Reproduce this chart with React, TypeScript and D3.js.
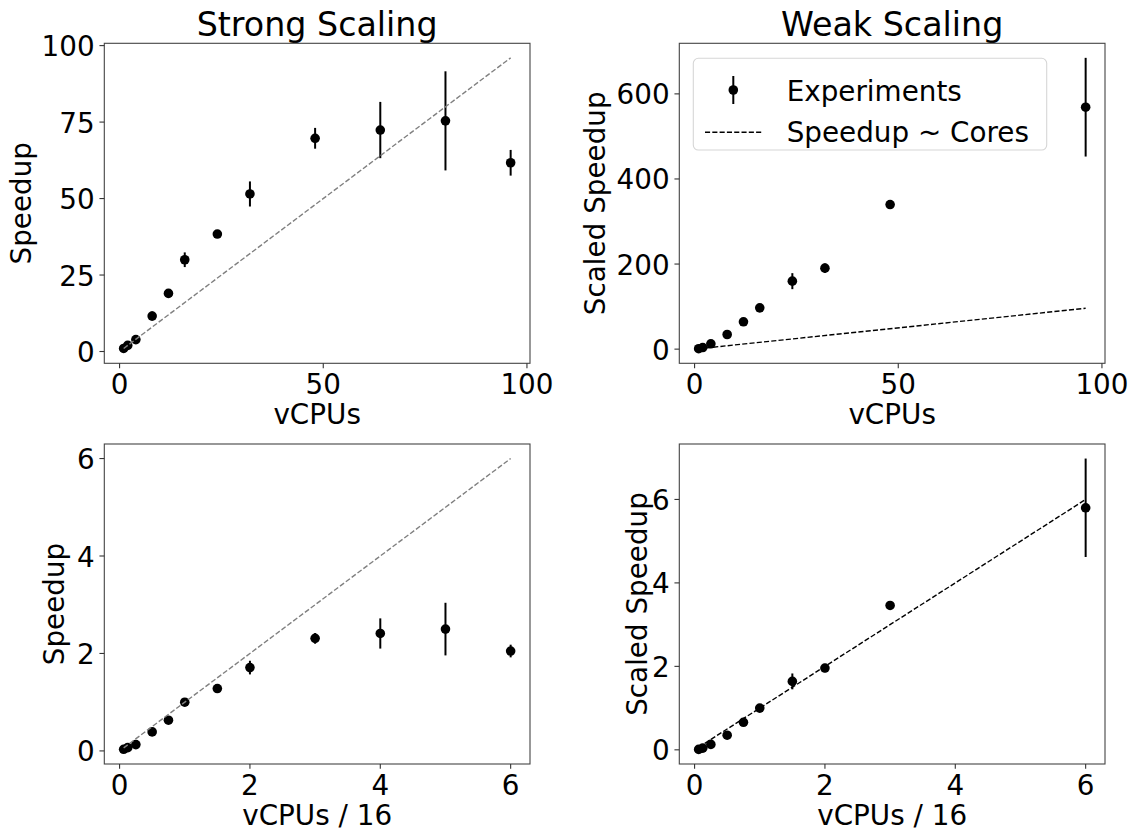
import React from "react";
import * as d3 from "d3";

// ---- Strong scaling (absolute vCPUs) ----
const strongCpus = [1, 2, 4, 8, 12, 16, 24, 32, 48, 64, 80, 96];
const strongSpeedup = [1.0, 2.0, 3.9, 11.6, 19.0, 30.0, 38.4, 51.5, 69.7, 72.4, 75.4, 61.7];
const strongErr = [0.1, 0.2, 0.3, 1.5, 0.8, 2.4, 1.0, 4.1, 3.4, 9.2, 16.2, 4.2];

// ---- Weak scaling (absolute vCPUs) ----
const weakCpus = [1, 2, 4, 8, 12, 16, 24, 32, 48, 96];
const weakSpeedup = [1.0, 3.8, 12.5, 34.4, 64.2, 97.1, 159.8, 190.4, 339.9, 568.7];
const weakErr = [0.1, 0.3, 1.0, 2.0, 3.0, 4.0, 18.8, 11.0, 5.0, 116.0];

// ---- Strong scaling (nodes of 16 vCPUs) ----
const strongNodes = [0.0625, 0.125, 0.25, 0.5, 0.75, 1, 1.5, 2, 3, 4, 5, 6];
const strongNodeSpeedup = [0.033, 0.067, 0.13, 0.39, 0.63, 1.0, 1.28, 1.71, 2.31, 2.41, 2.5, 2.05];
const strongNodeErr = [0.003, 0.007, 0.01, 0.05, 0.03, 0.08, 0.03, 0.14, 0.11, 0.31, 0.54, 0.13];

// ---- Weak scaling (nodes of 16 vCPUs) ----
const weakNodes = [0.0625, 0.125, 0.25, 0.5, 0.75, 1, 1.5, 2, 3, 6];
const weakNodeSpeedup = [0.01, 0.04, 0.13, 0.35, 0.66, 1.0, 1.64, 1.96, 3.46, 5.8];
const weakNodeErr = [0.001, 0.003, 0.01, 0.02, 0.03, 0.04, 0.19, 0.1, 0.05, 1.18];

const cpuTicks = [0, 50, 100];
const nodeTicks = [0, 2, 4, 6];
const strongTicks = [0, 25, 50, 75, 100];
const weakTicks = [0, 200, 400, 600];
const smallTicks = [0, 2, 4, 6];

const legendLabels = ["Experiments", "Speedup ~ Cores"];

const FONT = "DejaVu Sans";
const TICK_FS = 27.8;
const TITLE_FS = 33.3;
const TICK_LEN = 4.86;
const TICK_PAD = 4.86;
const MARKER_R = 4.8;

function padded(lo: number, hi: number): [number, number] {
  const m = (hi - lo) * 0.05;
  return [lo - m, hi + m];
}

type PanelProps = {
  left: number;
  top: number;
  width: number;
  height: number;
  xs: number[];
  ys: number[];
  errs: number[];
  xTicks: number[];
  yTicks: number[];
  xLabel: string;
  yLabel: string;
  yLabelX: number;
  title?: string;
  idealColor: string;
  legend?: boolean;
};

function Panel(p: PanelProps) {
  const { left, top, width, height, xs, ys, errs } = p;
  const right = left + width;
  const bottom = top + height;

  const x0 = xs[0];
  const x1 = xs[xs.length - 1];
  const lows = ys.map((v, i) => v - errs[i]);
  const highs = ys.map((v, i) => v + errs[i]);
  const yLo = Math.min(d3.min(lows) as number, x0);
  const yHi = Math.max(d3.max(highs) as number, x1);

  const x = d3.scaleLinear().domain(padded(x0, x1)).range([left, right]);
  const y = d3.scaleLinear().domain(padded(yLo, yHi)).range([bottom, top]);

  const ideal = d3
    .line<[number, number]>()
    .x((d) => x(d[0]))
    .y((d) => y(d[1]))([
    [x0, x0],
    [x1, x1],
  ]);

  const fmt = d3.format("d");

  return (
    <g>
      {p.title && (
        <text
          x={(left + right) / 2}
          y={top - 7}
          textAnchor="middle"
          fontSize={TITLE_FS}
          fontFamily={FONT}
          fill="#000"
        >
          {p.title}
        </text>
      )}

      {/* error bars and markers */}
      <g>
        {xs.map((xv, i) => (
          <line
            key={`e${i}`}
            x1={x(xv)}
            x2={x(xv)}
            y1={y(ys[i] - errs[i])}
            y2={y(ys[i] + errs[i])}
            stroke="#000"
            strokeWidth={2}
          />
        ))}
        {xs.map((xv, i) => (
          <circle key={`m${i}`} cx={x(xv)} cy={y(ys[i])} r={MARKER_R} fill="#000" />
        ))}
      </g>

      {/* linear reference */}
      <path
        d={ideal || ""}
        fill="none"
        stroke={p.idealColor}
        strokeWidth={1.4}
        strokeDasharray="5.1 2.2"
      />

      {/* frame */}
      <rect
        x={left}
        y={top}
        width={width}
        height={height}
        fill="none"
        stroke="#444"
        strokeWidth={1.1}
      />

      {/* x ticks */}
      {p.xTicks.map((t) => (
        <g key={`xt${t}`}>
          <line
            x1={x(t)}
            x2={x(t)}
            y1={bottom}
            y2={bottom + TICK_LEN}
            stroke="#333"
            strokeWidth={1.1}
          />
          <text
            x={x(t)}
            y={bottom + 31}
            textAnchor="middle"
            fontSize={TICK_FS}
            fontFamily={FONT}
            fill="#000"
          >
            {fmt(t)}
          </text>
        </g>
      ))}

      {/* y ticks */}
      {p.yTicks.map((t) => (
        <g key={`yt${t}`}>
          <line
            x1={left - TICK_LEN}
            x2={left}
            y1={y(t)}
            y2={y(t)}
            stroke="#333"
            strokeWidth={1.1}
          />
          <text
            x={left - TICK_LEN - TICK_PAD}
            y={y(t) + 10.5}
            textAnchor="end"
            fontSize={TICK_FS}
            fontFamily={FONT}
            fill="#000"
          >
            {fmt(t)}
          </text>
        </g>
      ))}

      {/* axis labels */}
      <text
        x={(left + right) / 2}
        y={bottom + 61}
        textAnchor="middle"
        fontSize={TICK_FS}
        fontFamily={FONT}
        fill="#000"
      >
        {p.xLabel}
      </text>
      <text
        transform={`translate(${p.yLabelX},${(top + bottom) / 2}) rotate(-90)`}
        textAnchor="middle"
        fontSize={TICK_FS}
        fontFamily={FONT}
        fill="#000"
      >
        {p.yLabel}
      </text>

      {p.legend && (
        <g>
          <rect
            x={left + 14}
            y={top + 15}
            width={353.4}
            height={91.7}
            rx={5}
            fill="#fff"
            fillOpacity={0.8}
            stroke="#d6d6d6"
            strokeWidth={1.1}
          />
          <line
            x1={left + 54}
            x2={left + 54}
            y1={top + 32.7}
            y2={top + 60.7}
            stroke="#000"
            strokeWidth={2}
          />
          <circle cx={left + 54} cy={top + 46.7} r={MARKER_R} fill="#000" />
          <text
            x={left + 107.4}
            y={top + 57.7}
            fontSize={TICK_FS}
            fontFamily={FONT}
            fill="#000"
          >
            {legendLabels[0]}
          </text>
          <line
            x1={left + 25.7}
            x2={left + 82.4}
            y1={top + 89}
            y2={top + 89}
            stroke={p.idealColor}
            strokeWidth={1.4}
            strokeDasharray="5.1 2.2"
          />
          <text
            x={left + 107.4}
            y={top + 98.4}
            fontSize={TICK_FS}
            fontFamily={FONT}
            fill="#000"
          >
            {legendLabels[1]}
          </text>
        </g>
      )}
    </g>
  );
}

export default function App() {
  const W = 1135;
  const H = 834;
  const pw = 425.7;
  const ph = 320;
  const colL = 104.3;
  const colR = 679.3;
  const rowT = 43.3;
  const rowB = 444;
  return (
    <svg
      width={W}
      height={H}
      style={{ position: "absolute", left: 0, top: 0, background: "#fff" }}
    >
      <rect width={W} height={H} fill="#fff" />
      <Panel
        left={colL}
        top={rowT}
        width={pw}
        height={ph}
        xs={strongCpus}
        ys={strongSpeedup}
        errs={strongErr}
        xTicks={cpuTicks}
        yTicks={strongTicks}
        xLabel="vCPUs"
        yLabel="Speedup"
        yLabelX={31}
        title="Strong Scaling"
        idealColor="#808080"
      />
      <Panel
        left={colR}
        top={rowT}
        width={pw}
        height={ph}
        xs={weakCpus}
        ys={weakSpeedup}
        errs={weakErr}
        xTicks={cpuTicks}
        yTicks={weakTicks}
        xLabel="vCPUs"
        yLabel="Scaled Speedup"
        yLabelX={605.4}
        title="Weak Scaling"
        idealColor="#000"
        legend
      />
      <Panel
        left={colL}
        top={rowB}
        width={pw}
        height={ph}
        xs={strongNodes}
        ys={strongNodeSpeedup}
        errs={strongNodeErr}
        xTicks={nodeTicks}
        yTicks={smallTicks}
        xLabel="vCPUs / 16"
        yLabel="Speedup"
        yLabelX={64.4}
        idealColor="#808080"
      />
      <Panel
        left={colR}
        top={rowB}
        width={pw}
        height={ph}
        xs={weakNodes}
        ys={weakNodeSpeedup}
        errs={weakNodeErr}
        xTicks={nodeTicks}
        yTicks={smallTicks}
        xLabel="vCPUs / 16"
        yLabel="Scaled Speedup"
        yLabelX={646.5}
        idealColor="#000"
      />
    </svg>
  );
}
